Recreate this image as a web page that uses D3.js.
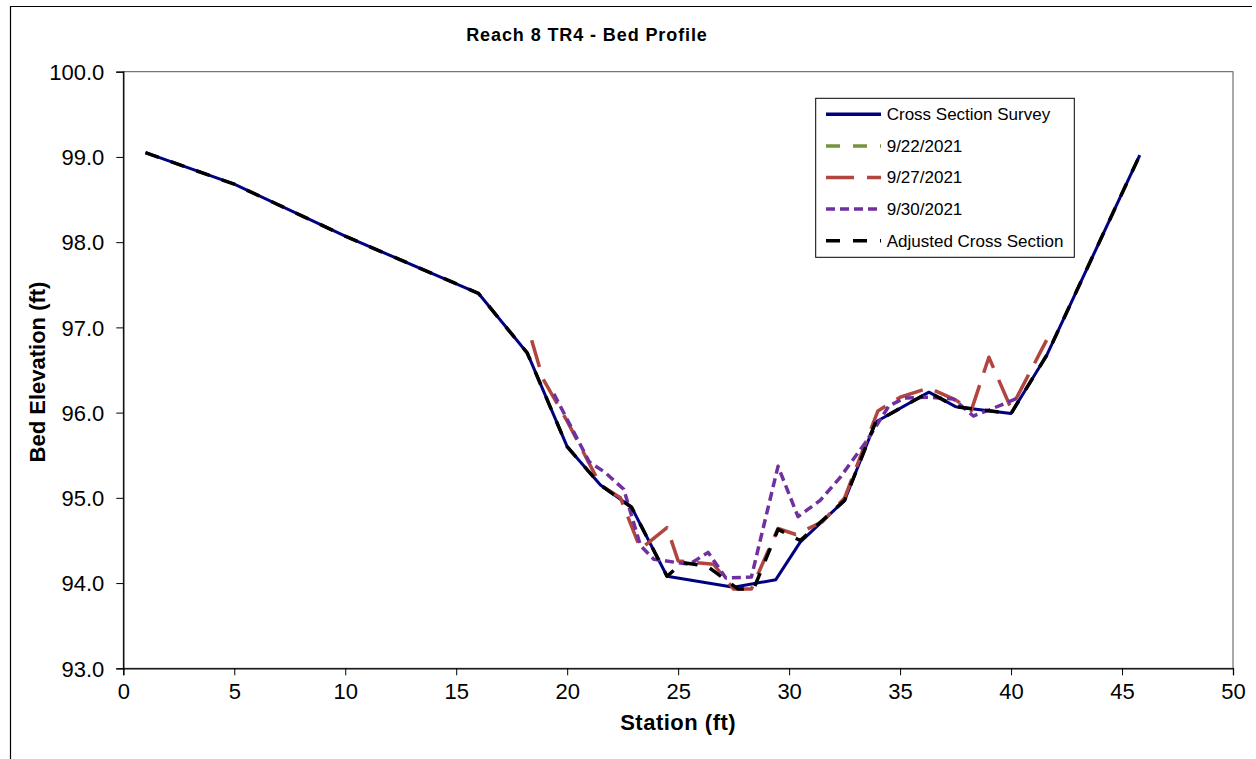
<!DOCTYPE html>
<html>
<head>
<meta charset="utf-8">
<script src="https://cdn.jsdelivr.net/npm/d3@7"></script>
<style>
  html, body { margin: 0; padding: 0; background: #fff; }
  svg { display: block; font-family: "Liberation Sans", Arial, sans-serif; }
</style>
</head>
<body>
<svg id="chart" width="1256" height="759"></svg>
<script>
// Bed profile data: station (ft) and bed elevation (ft) for each series
const surveyStation = [1.0, 5.0, 10.0, 16.0, 18.2, 20.0, 21.5, 22.9, 24.5, 27.5, 29.4, 30.5, 32.5, 33.9, 36.3, 37.5, 40.0, 41.6, 45.8];
const surveyElev    = [99.05, 98.68, 98.07, 97.40, 96.70, 95.60, 95.15, 94.89, 94.08, 93.95, 94.04, 94.48, 94.97, 95.89, 96.24, 96.07, 95.99, 96.67, 99.02];

const sep22Station = [];
const sep22Elev    = [];

const sep27Station = [18.4, 18.9, 20.0, 21.5, 22.4, 23.3, 24.5, 25.0, 26.6, 27.5, 28.3, 29.5, 30.3, 31.5, 32.5, 34.0, 35.0, 36.3, 37.5, 38.2, 39.0, 40.0, 41.6];
const sep27Elev    = [96.85, 96.40, 95.90, 95.15, 95.00, 94.40, 94.65, 94.26, 94.22, 93.93, 93.93, 94.64, 94.57, 94.72, 95.00, 96.02, 96.18, 96.29, 96.15, 96.02, 96.65, 96.05, 96.85];

const sep30Station = [19.4, 20.2, 21.0, 21.7, 22.55, 23.3, 23.9, 25.5, 26.35, 27.15, 28.3, 29.5, 30.4, 31.4, 32.3, 33.5, 34.5, 35.2, 36.3, 37.4, 38.3, 39.0, 40.3];
const sep30Elev    = [96.22, 95.82, 95.42, 95.30, 95.10, 94.44, 94.28, 94.22, 94.36, 94.06, 94.07, 95.37, 94.78, 94.97, 95.24, 95.67, 96.08, 96.17, 96.18, 96.16, 95.96, 96.03, 96.17];

const adjStation = [1.0, 5.0, 10.0, 16.0, 18.2, 20.0, 21.5, 22.9, 24.5, 25.2, 26.3, 27.7, 28.4, 29.5, 30.5, 32.5, 33.9, 36.3, 37.5, 40.0, 41.6, 45.8];
const adjElev    = [99.05, 98.68, 98.07, 97.40, 96.70, 95.60, 95.15, 94.89, 94.08, 94.24, 94.20, 93.93, 93.93, 94.63, 94.50, 94.97, 95.89, 96.24, 96.07, 95.99, 96.67, 99.02];

const xTicks = [0, 5, 10, 15, 20, 25, 30, 35, 40, 45, 50];
const yTicks = [93, 94, 95, 96, 97, 98, 99, 100];

const seriesNames = ["Cross Section Survey", "9/22/2021", "9/27/2021", "9/30/2021", "Adjusted Cross Section"];

const zip = (xs, ys) => xs.map((x, i) => ({ x, y: ys[i] }));

const series = [
  { name: seriesNames[0], pts: zip(surveyStation, surveyElev), color: "#000080", width: 3,   dash: null },
  { name: seriesNames[1], pts: zip(sep22Station, sep22Elev),   color: "#77933C", width: 3.5, dash: "14,13" },
  { name: seriesNames[2], pts: zip(sep27Station, sep27Elev),   color: "#B0463F", width: 3.5, dash: "28,13" },
  { name: seriesNames[3], pts: zip(sep30Station, sep30Elev),   color: "#7030A0", width: 3.5, dash: "9,5" },
  { name: seriesNames[4], pts: zip(adjStation, adjElev),       color: "#000000", width: 3.5, dash: "14,13" }
];

const svg = d3.select("#chart");
const W = 1256, H = 759;
const plot = { left: 123.3, right: 1233, top: 71.7, bottom: 668.3 };

// Outer chart frame (top and left edges)
svg.append("path")
  .attr("d", `M10.5,${H} V6.5 H1252`)
  .attr("fill", "none").attr("stroke", "#000").attr("stroke-width", 1.2);

const x = d3.scaleLinear().domain([0, 50]).range([plot.left, plot.right]);
const y = d3.scaleLinear().domain([93, 100]).range([plot.bottom, plot.top]);

// Plot area box
svg.append("rect")
  .attr("x", plot.left).attr("y", plot.top)
  .attr("width", plot.right - plot.left).attr("height", plot.bottom - plot.top)
  .attr("fill", "none").attr("stroke", "#555").attr("stroke-width", 1);

// Axes
const xAxis = svg.append("g")
  .attr("transform", `translate(0,${plot.bottom})`)
  .call(d3.axisBottom(x).tickValues(xTicks).tickFormat(d3.format("d")).tickSize(7).tickPadding(8));
const yAxis = svg.append("g")
  .attr("transform", `translate(${plot.left},0)`)
  .call(d3.axisLeft(y).tickValues(yTicks).tickFormat(d3.format(".1f")).tickSize(7).tickPadding(12));

[xAxis, yAxis].forEach(g => {
  g.select(".domain").attr("stroke", "#000").attr("stroke-width", 1.3);
  g.selectAll(".tick line").attr("stroke", "#000").attr("stroke-width", 1);
  g.selectAll(".tick text")
    .attr("fill", "#000")
    .style("font-family", "'Liberation Sans', Arial, sans-serif")
    .style("font-size", "22px");
});
xAxis.selectAll(".tick text").attr("dy", "0.72em");
yAxis.selectAll(".tick text").attr("dy", "0.35em");

// Series lines
const line = d3.line().x(d => x(d.x)).y(d => y(d.y));
const lines = svg.append("g");
series.forEach(s => {
  if (!s.pts.length) return;
  lines.append("path")
    .datum(s.pts)
    .attr("d", line)
    .attr("fill", "none")
    .attr("stroke", s.color)
    .attr("stroke-width", s.width)
    .attr("stroke-linejoin", "round")
    .attr("stroke-dasharray", s.dash);
});

// Title and axis titles
svg.append("text")
  .attr("x", 587).attr("y", 41)
  .attr("text-anchor", "middle")
  .style("font-size", "18px").style("font-weight", "bold")
  .style("letter-spacing", "0.9px")
  .text("Reach  8 TR4 - Bed Profile");

svg.append("text")
  .attr("x", (plot.left + plot.right) / 2).attr("y", 730)
  .attr("text-anchor", "middle")
  .style("font-size", "22px").style("font-weight", "bold")
  .style("letter-spacing", "0.5px")
  .text("Station (ft)");

svg.append("text")
  .attr("transform", `translate(45,${(plot.top + plot.bottom) / 2 + 2}) rotate(-90)`)
  .attr("text-anchor", "middle")
  .style("font-size", "22px").style("font-weight", "bold")
  .text("Bed Elevation (ft)");

// Legend
const lg = { x: 815.7, y: 98.3, w: 258.6, h: 159 };
const legend = svg.append("g");
legend.append("rect")
  .attr("x", lg.x).attr("y", lg.y).attr("width", lg.w).attr("height", lg.h)
  .attr("fill", "#fff").attr("stroke", "#000").attr("stroke-width", 1);
series.forEach((s, i) => {
  const cy = 114.3 + i * 31.6;
  legend.append("line")
    .attr("x1", 826).attr("x2", 881).attr("y1", cy).attr("y2", cy)
    .attr("stroke", s.color).attr("stroke-width", 3.5)
    .attr("stroke-dasharray", s.dash);
  legend.append("text")
    .attr("x", 886.7).attr("y", cy).attr("dy", "0.35em")
    .style("font-size", "17px")
    .text(s.name);
});
</script>
</body>
</html>
